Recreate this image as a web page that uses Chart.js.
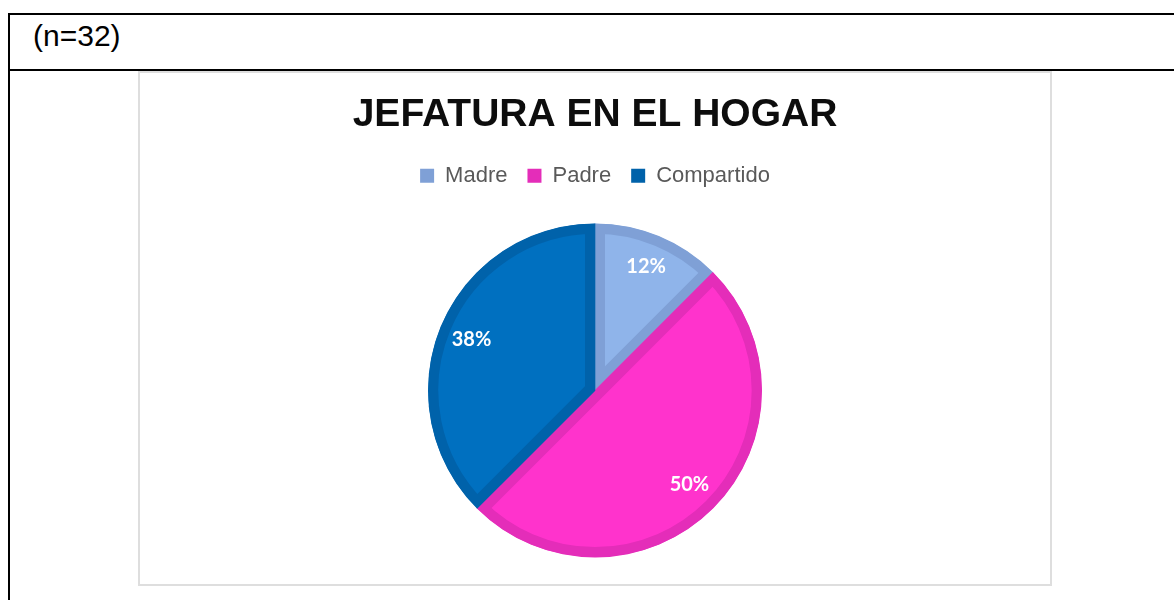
<!DOCTYPE html>
<html>
<head>
<meta charset="utf-8">
<script src="https://cdn.jsdelivr.net/npm/chart.js@4"></script>
<style>
  body { margin: 0; background: #fff; width: 1174px; height: 600px; overflow: hidden; position: relative; }
  .tbl { position: absolute; left: 8px; top: 13px; width: 1200px; height: 620px; border-left: 2px solid #000; border-top: 2px solid #000; }
  .rule { position: absolute; left: 8px; top: 69px; width: 1200px; height: 2px; background: #000; }
  .note { position: absolute; left: 33px; top: 19px; font: 30px "Liberation Sans", Arial, sans-serif; color: #000; }
  .box { position: absolute; left: 138px; top: 71px; width: 910px; height: 511px; border: 2px solid #dedede; }
</style>
</head>
<body>
<div class="tbl"></div>
<div class="rule"></div>
<div class="note">(n=32)</div>
<div class="box"><canvas id="pieChart"></canvas></div>
<script>
// datos
var categories = ['Madre', 'Padre', 'Compartido'];
var counts = [4, 16, 12];
var pctLabels = ['12%', '50%', '38%'];

var fillColors = ['#8FB4EA', '#FF33CC', '#0070C0'];
var edgeColors = ['#7FA0D6', '#E42DB9', '#0062AA'];

// etiquetas de porcentaje dentro de cada sector
var sliceLabels = {
    id: 'sliceLabels',
    afterDatasetsDraw: function (chart) {
        var ctx = chart.ctx;
        var arcs = chart.getDatasetMeta(0).data;
        ctx.save();
        ctx.font = 'bold 20px Lato, "Open Sans", sans-serif';
        ctx.fillStyle = '#ffffff';
        ctx.textAlign = 'center';
        ctx.textBaseline = 'middle';
        arcs.forEach(function (arc, i) {
            var p = arc.getProps(['x', 'y', 'startAngle', 'endAngle', 'outerRadius'], true);
            var mid = (p.startAngle + p.endAngle) / 2;
            var r = p.outerRadius * 0.8;
            ctx.fillText(pctLabels[i], p.x + Math.cos(mid) * r, p.y + Math.sin(mid) * r);
        });
        ctx.restore();
    }
};

var ctxPie = document.getElementById('pieChart').getContext('2d');
var pieChart = new Chart(ctxPie, {
    type: 'pie',
    data: {
        labels: categories,
        datasets: [{
            data: counts,
            backgroundColor: fillColors,
            borderColor: edgeColors,
            borderWidth: 10,
            borderAlign: 'inner'
        }]
    },
    options: {
        responsive: true,
        maintainAspectRatio: false,
        animation: false,
        events: [],
        radius: 167,
        layout: {
            padding: { bottom: 0 }
        },
        plugins: {
            title: {
                display: true,
                text: 'JEFATURA EN EL HOGAR',
                color: '#0d0d0d',
                font: { family: '"Liberation Sans", Arial, sans-serif', size: 39, weight: 'bold' },
                padding: { top: 19, bottom: 6 }
            },
            legend: {
                position: 'top',
                labels: {
                    color: '#595959',
                    font: { family: '"Liberation Sans", Arial, sans-serif', size: 22 },
                    boxWidth: 14,
                    boxHeight: 14,
                    padding: 20,
                    generateLabels: function (chart) {
                        return categories.map(function (name, i) {
                            return {
                                text: name,
                                fillStyle: edgeColors[i],
                                strokeStyle: edgeColors[i],
                                lineWidth: 0,
                                fontColor: '#595959',
                                hidden: false,
                                index: i
                            };
                        });
                    }
                }
            },
            tooltip: { enabled: false }
        }
    },
    plugins: [sliceLabels]
});
</script>
</body>
</html>
